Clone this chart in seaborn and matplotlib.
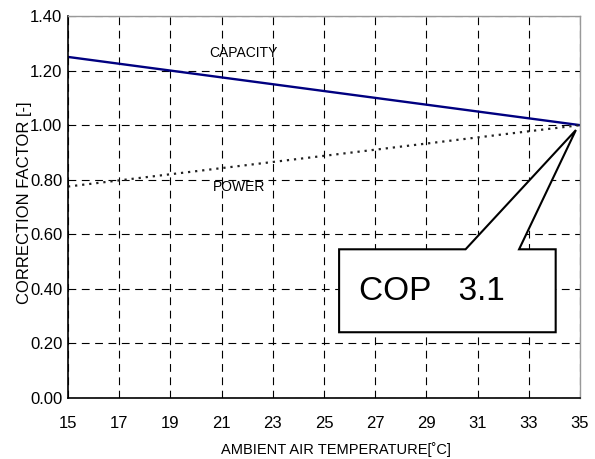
import matplotlib
matplotlib.use("Agg")
import matplotlib.pyplot as plt
import seaborn as sns
import pandas as pd
from matplotlib.patches import Polygon

temps = [15, 35]
capacity = [1.25, 1.00]
power = [0.775, 1.00]
x_ticks = [15, 17, 19, 21, 23, 25, 27, 29, 31, 33, 35]
y_ticks = [0.0, 0.2, 0.4, 0.6, 0.8, 1.0, 1.2, 1.4]

sns.set_style("white")
plt.rcParams['font.family'] = ['Liberation Sans', 'DejaVu Sans']
plt.rcParams['text.color'] = 'black'
plt.rcParams['axes.labelcolor'] = 'black'
plt.rcParams['xtick.color'] = 'black'
plt.rcParams['ytick.color'] = 'black'

fig = plt.figure(figsize=(5.95, 4.59), dpi=100)
ax = fig.add_axes([68/595, 1 - 398/459, 512/595, 382/459])

df_cap = pd.DataFrame({"t": temps, "v": capacity})
df_pow = pd.DataFrame({"t": temps, "v": power})
sns.lineplot(data=df_cap, x="t", y="v", ax=ax, color="#000080", lw=1.7)
sns.lineplot(data=df_pow, x="t", y="v", ax=ax, color="#222222", lw=1.6,
             linestyle=(0, (1, 2.2)))

ax.set_xlim(15, 35)
ax.set_ylim(0, 1.4)
ax.set_xticks(x_ticks)
ax.set_xticklabels([str(t) for t in x_ticks], fontsize=12)
ax.set_yticks(y_ticks)
ax.set_yticklabels([f"{v:.2f}" for v in y_ticks], fontsize=12)
ax.tick_params(axis='x', length=0, pad=13)
ax.tick_params(axis='y', length=0, pad=4)
ax.grid(True, color="black", linestyle=(0, (7, 5)), lw=0.8)

for s in ["left", "bottom"]:
    ax.spines[s].set_color("black")
    ax.spines[s].set_linewidth(1.2)
for s in ["top", "right"]:
    ax.spines[s].set_color("#999999")
    ax.spines[s].set_linewidth(1.0)

ax.set_xlabel("AMBIENT AIR TEMPERATURE[\u02daC]", fontsize=10.5)
ax.set_ylabel("CORRECTION FACTOR [-]", fontsize=12)
ax.xaxis.set_label_coords(0.523, -0.115)
ax.yaxis.set_label_coords(-0.07, 0.51)

ax.text(21.86, 1.266, "CAPACITY", fontsize=10, ha="center", va="center")
ax.text(21.70, 0.772, "POWER", fontsize=10, ha="center", va="center")

# callout box
bx0, bx1, by0, by1 = 25.59, 34.05, 0.241, 0.545
p1, p2 = 30.53, 32.62
tip = (34.84, 0.982)
poly = [(bx0, by0), (bx1, by0), (bx1, by1), (p2, by1), tip, (p1, by1), (bx0, by1)]
ax.add_patch(Polygon(poly, closed=True, facecolor="white", edgecolor="black",
                     lw=1.5, zorder=5, clip_on=False))
ax.text(29.2, 0.39, "COP   3.1", fontsize=24, ha="center",
        va="center", zorder=6)

fig.savefig("out.png", dpi=100)
